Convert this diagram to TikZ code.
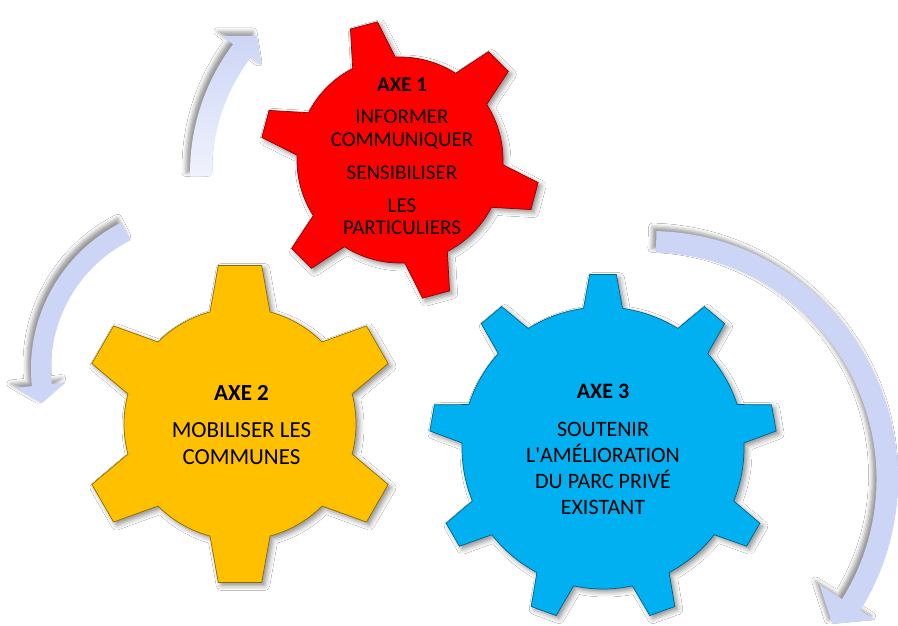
\documentclass[tikz,border=0pt]{standalone}
\usepackage{fontspec}
\setmainfont{Carlito}[Ligatures=TeXOff]
\usetikzlibrary{shadows.blur}

\definecolor{gearred}{RGB}{255,0,0}
\definecolor{gearyellow}{RGB}{255,192,0}
\definecolor{gearblue}{RGB}{0,176,240}
\definecolor{lav}{RGB}{204,213,246}
\definecolor{lavlight}{RGB}{240,242,252}

\tikzset{
  gearbody/.style={draw=#1!55!black, line width=0.7pt, fill=#1, line join=miter,
    blur shadow={shadow xshift=3pt, shadow yshift=-3pt, shadow blur radius=5pt, shadow opacity=45}},
  bandarrow/.style={blur shadow={shadow xshift=-4pt, shadow yshift=4pt, shadow blur radius=4pt, shadow opacity=40}},
  axetext/.style={align=center, anchor=north, inner sep=0pt, text=black},
}

% gear outline centred at the origin
% #1 style, #2 teeth, #3 first tooth angle, #4 body radius, #5 tip radius,
% #6 tooth half-width at the body, #7 tooth half-width at the tip
\newcommand\geardraw[7]{%
  \pgfmathsetmacro\gb{asin(#6/#4)}%
  \pgfmathsetmacro\gt{asin(#7/#5)}%
  \pgfmathsetmacro\gs{360/#2}%
  \path[#1] (#3-\gb:#4)
    \foreach \k [evaluate=\k as \ga using #3+(\k-1)*\gs] in {1,...,#2}{
      -- (\ga-\gt:#5) -- (\ga+\gt:#5) -- (\ga+\gb:#4)
      arc[start angle=\ga+\gb, end angle=\ga+\gs-\gb, radius=#4]
    } -- cycle;
}

% curved band arrow around the origin
% #1 style, #2 tail angle, #3 head angle, #4 inner r, #5 outer r,
% #6 head inner r, #7 head outer r, #8 tip angle, #9 tip r
\newcommand\bandarrowdraw[9]{%
  \path[#1] (#2:#5) arc[start angle=#2, end angle=#3, radius=#5]
    -- (#3:#7) -- (#8:#9) -- (#3:#6) -- (#3:#4)
    arc[start angle=#3, end angle=#2, radius=#4] -- cycle;
}

\begin{document}
\begin{tikzpicture}[x=1pt, y=1pt]
  \clip (0,0) rectangle (898,625);
  \fill[white] (0,0) rectangle (898,625);

  % circular arrows
  \begin{scope}[shift={(404,452)}]
    \bandarrowdraw{bandarrow, top color=lav, bottom color=lavlight}{181}{143}{192}{214}{178}{228}{137}{201}
  \end{scope}
  \begin{scope}[shift={(195,256)}]
    \bandarrowdraw{bandarrow, top color=lav, middle color=lavlight, bottom color=lav}{116.5}{186}{144}{164}{130}{181}{192.6}{157}
  \end{scope}
  \begin{scope}[shift={(650,146)}]
    \bandarrowdraw{bandarrow, top color=lav, middle color=lavlight, bottom color=lav}{88.5}{-32}{226.5}{248}{200}{266}{-38.5}{233}
  \end{scope}

  % gears
  \begin{scope}[shift={(400,465)}]
    \geardraw{gearbody=gearred}{6}{105}{103}{140}{22}{14}
  \end{scope}
  \begin{scope}[shift={(240,201)}]
    \geardraw{gearbody=gearyellow}{6}{90}{116}{160}{30}{21.7}
  \end{scope}
  \begin{scope}[shift={(603,177)}]
    \geardraw{gearbody=gearblue}{9}{90}{141}{174}{19.5}{13.3}
  \end{scope}

  % labels
  \node[axetext, font=\fontsize{21}{22.7}\selectfont] (axe1) at (402,547.6)
    {\textbf{AXE 1}\\[10pt]INFORMER\\COMMUNIQUER\\[10pt]SENSIBILISER\\[10pt]LES\\PARTICULIERS};
  \node[axetext, font=\fontsize{23}{26.5}\selectfont] (axe2) at (241.5,239.5)
    {\textbf{AXE 2}\\[10.5pt]MOBILISER LES\\COMMUNES};
  \node[axetext, font=\fontsize{22}{26}\selectfont] (axe3) at (603,240.9)
    {\textbf{AXE 3}\\[12pt]SOUTENIR\\L'AMÉLIORATION\\DU PARC PRIVÉ\\EXISTANT};
\end{tikzpicture}
\end{document}
